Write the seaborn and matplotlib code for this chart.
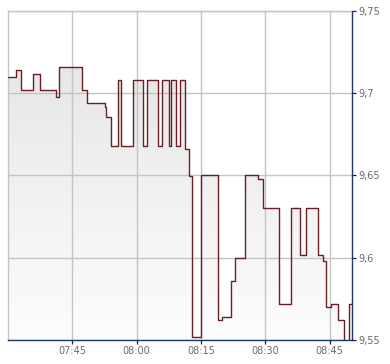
import matplotlib
matplotlib.use("Agg")
import matplotlib.pyplot as plt
import matplotlib.dates as mdates
import numpy as np
import pandas as pd
import seaborn as sns

# ---- data ----
times = ["07:30:00", "07:31:57", "07:33:00", "07:35:55", "07:37:32", "07:41:16",
         "07:41:58", "07:47:20", "07:48:26", "07:52:41", "07:52:55", "07:54:01",
         "07:55:43", "07:56:21", "07:59:13", "08:01:25", "08:02:20", "08:05:03",
         "08:05:59", "08:07:37", "08:08:05", "08:09:15", "08:10:06", "08:11:20",
         "08:12:12", "08:12:58", "08:15:04", "08:19:02", "08:19:58", "08:22:04",
         "08:23:00", "08:25:20", "08:28:13", "08:29:27", "08:33:15", "08:36:03",
         "08:38:05", "08:39:33", "08:42:20", "08:43:22", "08:44:04", "08:45:14",
         "08:47:00", "08:48:16", "08:49:26", "08:50:15"]
prices = [9.710, 9.714, 9.702, 9.7115, 9.702, 9.6976,
          9.7158, 9.702, 9.694, 9.6915, 9.6857, 9.668,
          9.7078, 9.668, 9.7078, 9.668, 9.7078, 9.668,
          9.7078, 9.668, 9.7078, 9.668, 9.7078, 9.666,
          9.6495, 9.552, 9.650, 9.562, 9.564, 9.5857,
          9.600, 9.650, 9.648, 9.630, 9.5717, 9.630,
          9.6015, 9.630, 9.6015, 9.598, 9.5702, 9.5717,
          9.562, 9.545, 9.5717, 9.5717]
x_start, x_end = "07:30:00", "08:50:15"
xtick_times = ["07:45", "08:00", "08:15", "08:30", "08:45"]
xtick_labels = ["07:45", "08:00", "08:15", "08:30", "08:45"]
ytick_values = [9.55, 9.60, 9.65, 9.70, 9.75]
ytick_labels = ["9,55", "9,6", "9,65", "9,7", "9,75"]
y_min, y_max = 9.55, 9.75

day = "2024-01-02 "
df = pd.DataFrame({"time": pd.to_datetime([day + t for t in times]),
                   "price": prices})

line_color = "#6a2023"
grid_color = "#c4c4c4"
axis_color = "#1b3a6b"
label_color = "#6a6a6a"

sns.set_theme(style="white")
plt.rcParams["font.family"] = ["DejaVu Sans"]

fig = plt.figure(figsize=(3.9, 3.64), dpi=100)
ax = fig.add_axes([8 / 390, 1 - 340 / 364, (352.3 - 8) / 390, (340 - 11) / 364])

# gradient fill under the step line
poly = ax.fill_between(df["time"], df["price"], y_min - 0.05, step="post",
                       facecolor="none", edgecolor="none", zorder=1)
x0 = mdates.date2num(pd.Timestamp(day + x_start))
x1 = mdates.date2num(pd.Timestamp(day + x_end))
grad = np.linspace(0, 1, 256).reshape(-1, 1)
top_c = np.array([0.905, 0.905, 0.905])
bot_c = np.array([0.995, 0.995, 0.995])
img = top_c + (bot_c - top_c) * grad
img = np.repeat(img[:, None, :], 2, axis=1).reshape(256, 2, 3)
im = ax.imshow(img, extent=[x0, x1, y_min - 0.01, 9.72], origin="upper",
               aspect="auto", zorder=1, interpolation="bilinear")
im.set_clip_path(poly.get_paths()[0], transform=ax.transData)

sns.lineplot(data=df, x="time", y="price", ax=ax, drawstyle="steps-post",
             color=line_color, linewidth=1.0, zorder=3, legend=False)

ax.set_xlim(pd.Timestamp(day + x_start), pd.Timestamp(day + x_end))
ax.set_ylim(y_min, y_max)

ax.set_xticks(pd.to_datetime([day + t for t in xtick_times]))
ax.set_xticklabels(xtick_labels)
ax.set_yticks(ytick_values)
ax.set_yticklabels(ytick_labels)
ax.yaxis.tick_right()
ax.set_xlabel("")
ax.set_ylabel("")

ax.set_axisbelow("line")
ax.grid(True, color=grid_color, linewidth=1.0)
ax.tick_params(axis="x", direction="out", length=2.8, width=0.9, color="#222222",
               labelsize=7, labelcolor=label_color, pad=1.5, bottom=True)
ax.tick_params(axis="y", direction="out", length=2.8, width=0.9, color="#222222",
               labelsize=7, labelcolor=label_color, pad=1.5, right=True, left=False)

for side in ["left", "top"]:
    ax.spines[side].set_color(grid_color)
    ax.spines[side].set_linewidth(1.0)
for side in ["bottom", "right"]:
    ax.spines[side].set_color(axis_color)
    ax.spines[side].set_linewidth(1.0)
    ax.spines[side].set_zorder(4)

fig.savefig("out.png", dpi=100)
